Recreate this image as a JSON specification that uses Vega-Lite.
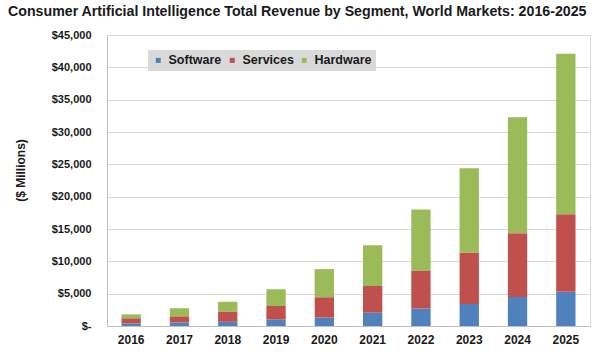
{
  "$schema": "https://vega.github.io/schema/vega-lite/v6.json",
  "width": 483,
  "height": 291,
  "autosize": "none",
  "padding": {"left": 107, "top": 35, "right": 10, "bottom": 28},
  "background": "white",
  "title": {
    "text": "Consumer Artificial Intelligence Total Revenue by Segment, World Markets: 2016-2025",
    "anchor": "start",
    "frame": "group",
    "dx": -99,
    "offset": 10,
    "font": "Liberation Sans",
    "fontSize": 14.2,
    "fontWeight": "bold",
    "color": "#1a1a1a"
  },
  "data": {
    "values": [
      {"year": "2016", "segment": "Software", "revenue": 400},
      {"year": "2016", "segment": "Services", "revenue": 800},
      {"year": "2016", "segment": "Hardware", "revenue": 600},
      {"year": "2017", "segment": "Software", "revenue": 550},
      {"year": "2017", "segment": "Services", "revenue": 950},
      {"year": "2017", "segment": "Hardware", "revenue": 1250},
      {"year": "2018", "segment": "Software", "revenue": 650},
      {"year": "2018", "segment": "Services", "revenue": 1600},
      {"year": "2018", "segment": "Hardware", "revenue": 1500},
      {"year": "2019", "segment": "Software", "revenue": 1000},
      {"year": "2019", "segment": "Services", "revenue": 2100},
      {"year": "2019", "segment": "Hardware", "revenue": 2600},
      {"year": "2020", "segment": "Software", "revenue": 1300},
      {"year": "2020", "segment": "Services", "revenue": 3150},
      {"year": "2020", "segment": "Hardware", "revenue": 4350},
      {"year": "2021", "segment": "Software", "revenue": 2050},
      {"year": "2021", "segment": "Services", "revenue": 4150},
      {"year": "2021", "segment": "Hardware", "revenue": 6300},
      {"year": "2022", "segment": "Software", "revenue": 2700},
      {"year": "2022", "segment": "Services", "revenue": 5900},
      {"year": "2022", "segment": "Hardware", "revenue": 9400},
      {"year": "2023", "segment": "Software", "revenue": 3400},
      {"year": "2023", "segment": "Services", "revenue": 7950},
      {"year": "2023", "segment": "Hardware", "revenue": 13050},
      {"year": "2024", "segment": "Software", "revenue": 4500},
      {"year": "2024", "segment": "Services", "revenue": 9850},
      {"year": "2024", "segment": "Hardware", "revenue": 17950},
      {"year": "2025", "segment": "Software", "revenue": 5300},
      {"year": "2025", "segment": "Services", "revenue": 12000},
      {"year": "2025", "segment": "Hardware", "revenue": 24800}
    ]
  },
  "mark": {"type": "bar"},
  "encoding": {
    "x": {
      "field": "year",
      "type": "ordinal",
      "scale": {"paddingInner": 0.6, "paddingOuter": 0.3},
      "axis": {
        "title": null,
        "labelAngle": 0,
        "labelFont": "Liberation Sans",
        "labelFontSize": 12,
        "labelFontWeight": "bold",
        "labelColor": "#1a1a1a",
        "labelPadding": 8,
        "ticks": false,
        "domainColor": "#bfbfbf"
      }
    },
    "y": {
      "field": "revenue",
      "type": "quantitative",
      "aggregate": "sum",
      "stack": "zero",
      "scale": {"domain": [0, 45000], "nice": false},
      "axis": {
        "title": "($ Millions)",
        "titleFont": "Liberation Sans",
        "titleFontSize": 12,
        "titleFontWeight": "bold",
        "titleColor": "#1a1a1a",
        "titleX": -87,
        "titleY": 135,
        "titleAngle": -90,
        "titleAlign": "center",
        "titleBaseline": "middle",
        "values": [0, 5000, 10000, 15000, 20000, 25000, 30000, 35000, 40000, 45000],
        "format": "$,.0f",
        "labelExpr": "datum.value === 0 ? '$-' : datum.label",
        "labelFont": "Liberation Sans",
        "labelFontSize": 11,
        "labelFontWeight": "bold",
        "labelColor": "#1a1a1a",
        "labelPadding": 16,
        "ticks": false,
        "domainColor": "#bfbfbf",
        "gridColor": "#d9d9d9",
        "gridWidth": 1
      }
    },
    "color": {
      "field": "segment",
      "type": "nominal",
      "scale": {
        "domain": ["Software", "Services", "Hardware"],
        "range": ["#4f81bd", "#c0504d", "#9bbb59"]
      },
      "legend": {
        "title": null,
        "orient": "none",
        "legendX": 41,
        "legendY": 15,
        "direction": "horizontal",
        "fillColor": "#d9d9d9",
        "padding": 4,
        "symbolType": "square",
        "symbolSize": 25,
        "symbolStrokeWidth": 0,
        "labelFont": "Liberation Sans",
        "labelFontSize": 12.5,
        "labelFontWeight": "bold",
        "labelColor": "#1a1a1a",
        "labelOffset": 4,
        "columnPadding": 4
      }
    },
    "order": {"field": "segment", "sort": "descending"}
  },
  "config": {
    "view": {"stroke": "#d9d9d9"}
  }
}
